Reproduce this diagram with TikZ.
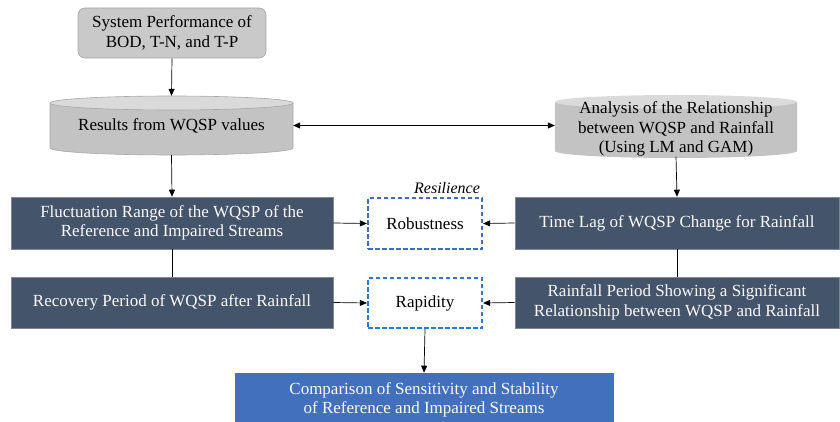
\documentclass[tikz,border=0pt]{standalone}
\usepackage{fontspec}
\setmainfont{Liberation Serif}
\usetikzlibrary{arrows.meta}
\definecolor{darkbox}{HTML}{44546A}
\definecolor{bluebox}{HTML}{4270BD}
\definecolor{dashblue}{HTML}{3F6CC0}
\definecolor{dashblue2}{HTML}{2A78D2}
\definecolor{cylbody}{HTML}{C3C3C3}
\definecolor{cyltop}{HTML}{DADADA}
\definecolor{cylline}{HTML}{A8A8A8}
\tikzset{
  txt/.style={font=\fontsize{17}{19.5}\selectfont, align=center, inner sep=0pt},
  darknode/.style={txt, fill=darkbox, text=white!95!gray, draw=darkbox!70!white, line width=0.6pt},
  dashnode/.style={txt, draw=dashblue, dashed, dash pattern=on 4.5pt off 2.5pt, line width=2.2pt, fill=white},
  arr/.style={-{Triangle[length=7pt,width=6pt]}, line width=0.7pt},
  plain/.style={line width=0.7pt},
}
\begin{document}
\begin{tikzpicture}[x=1pt,y=1pt]
\useasboundingbox (0,0) rectangle (840,-422);
\clip (0,0) rectangle (840,-422);
% cylinder 1
\fill[cylbody] (50,-103) -- (50,-148) arc[start angle=180,end angle=360,x radius=121.5,y radius=7] -- (293,-103) -- cycle;
\draw[cylline,line width=0.6pt] (50,-103) -- (50,-148) arc[start angle=180,end angle=360,x radius=121.5,y radius=7] -- (293,-103);
\filldraw[fill=cyltop,draw=cylline,line width=0.6pt] (171.5,-103) ellipse[x radius=121.5,y radius=7];
% cylinder 2
\fill[cylbody] (555,-102) -- (555,-151) arc[start angle=180,end angle=360,x radius=121,y radius=7] -- (797,-102) -- cycle;
\fill[cyltop] (676,-102) ellipse[x radius=121,y radius=7];

\node[txt, fill=gray!42, draw=gray!70, rounded corners=7pt, minimum width=188pt, minimum height=50pt, line width=0.6pt] (sys) at (172,-33) {System Performance of\\BOD, T-N, and T-P};
\node[txt, minimum width=243pt, minimum height=59pt] (res) at (171.5,-125.5) {\raisebox{-3pt}{Results from WQSP values}};
\node[txt, minimum width=242pt, minimum height=52pt] (anal) at (676,-129) {Analysis of the Relationship\\between WQSP and Rainfall\\(Using LM and GAM)};

\node[darknode, minimum width=322pt, minimum height=52pt] (fluct) at (172,-223) {Fluctuation Range of the WQSP of the\\Reference and Impaired Streams};
\node[darknode, minimum width=322pt, minimum height=51pt] (recov) at (172,-302.5) {Recovery Period of WQSP after Rainfall};
\node[darknode, minimum width=324pt, minimum height=52pt] (lag) at (677,-223) {Time Lag of WQSP Change for Rainfall};
\node[darknode, minimum width=324pt, minimum height=51pt] (rainp) at (677,-302.5) {Rainfall Period Showing a Significant\\Relationship between WQSP and Rainfall};
\node[dashnode, minimum width=114pt, minimum height=51pt] (robust) at (425,-223.5) {Robustness};
\node[dashnode, draw=dashblue2, minimum width=114pt, minimum height=50pt] (rapid) at (425,-303) {Rapidity};
\node[txt, anchor=south east, inner sep=3pt, font=\fontsize{16}{17}\selectfont\itshape] (resil) at (robust.north east) {Resilience};
\node[darknode, fill=bluebox, draw=bluebox, minimum width=378pt, minimum height=54pt] (comp) at (424,-400) {Comparison of Sensitivity and Stability\\of Reference and Impaired Streams};

\draw[arr] (sys.south) -- (res.north);
\draw[arr, {Triangle[length=7pt,width=6pt]}-{Triangle[length=7pt,width=6pt]}] (res.east) -- (res.east -| anal.west);
\draw[arr] (res.south) -- (fluct.north);
\draw[arr] (anal.south) -- (lag.north);
\draw[plain] (fluct.south) -- (recov.north);
\draw[plain] (lag.south) -- (rainp.north);
\draw[arr] (fluct.east) -- (robust.west);
\draw[arr] (lag.west) -- (robust.east);
\draw[arr] (recov.east) -- (rapid.west);
\draw[arr] (rainp.west) -- (rapid.east);
\draw[arr] (rapid.south) -- (comp.north);
\end{tikzpicture}
\end{document}
